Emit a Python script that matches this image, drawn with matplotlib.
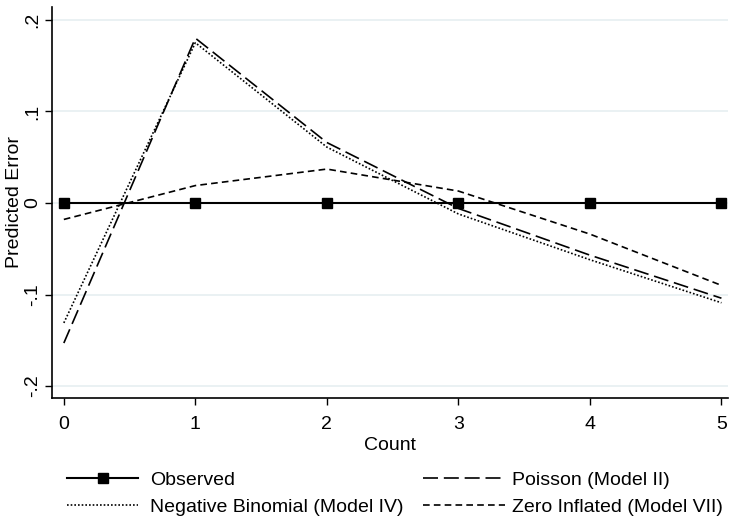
import matplotlib
matplotlib.use("Agg")
import matplotlib.pyplot as plt
from matplotlib.lines import Line2D

plt.rcParams['font.family'] = ['Liberation Sans', 'DejaVu Sans']

counts = [0, 1, 2, 3, 4, 5]
observed = [0, 0, 0, 0, 0, 0]
poisson = [-0.153, 0.180, 0.066, -0.006, -0.057, -0.104]
negbin = [-0.131, 0.175, 0.061, -0.012, -0.062, -0.109]
zeroinf = [-0.018, 0.019, 0.037, 0.013, -0.034, -0.090]
yticks = [-0.2, -0.1, 0, 0.1, 0.2]
yticklabels = ["-.2", "-.1", "0", ".1", ".2"]

FS = 14
W, H = 729, 520
fig = plt.figure(figsize=(W/100, H/100), dpi=100)
ax = fig.add_axes([52/W, 1-398/H, (728-52)/W, (398-7)/H])

for y in yticks:
    ax.axhline(y, color='#e6eff1', lw=1.2, zorder=0)

l_obs, = ax.plot(counts, observed, color='black', lw=1.5, marker='s', ms=7.5,
                 label='Observed', zorder=3)
l_poi, = ax.plot(counts, poisson, color='black', lw=1.2, dashes=(9, 3.5),
                 label='Poisson (Model II)')
l_nb, = ax.plot(counts, negbin, color='black', lw=1.2, dashes=(1, 1.2),
                label='Negative Binomial (Model IV)')
l_zi, = ax.plot(counts, zeroinf, color='black', lw=1.2, dashes=(4, 2.5),
                label='Zero Inflated (Model VII)')

ax.set_xlim(-0.09, 5.05)
ax.set_ylim(-0.213, 0.214)
ax.set_yticks(yticks)
ax.set_yticklabels(yticklabels, rotation=90, va='center', fontsize=FS)
ax.set_xticks(counts)
ax.set_xticklabels([str(c) for c in counts], fontsize=FS)
ax.tick_params(axis='x', length=5, width=1, color='black', pad=8)
ax.tick_params(axis='y', length=5, width=1, color='black', pad=3)
for s in ['top', 'right']:
    ax.spines[s].set_visible(False)
for s in ['left', 'bottom']:
    ax.spines[s].set_linewidth(1.2)
ax.set_xlabel('Count', fontsize=FS, labelpad=3)
ax.set_ylabel('Predicted Error', fontsize=FS)
ax.yaxis.set_label_coords((23-52)/676, 0.5)

col1 = [l_obs, l_nb]
col2 = [l_poi, l_zi]
fig.legend(handles=col1, labels=[h.get_label() for h in col1],
           loc='upper left', bbox_to_anchor=(67/W, 1-471/H),
           frameon=False, fontsize=FS, handlelength=71/19.4, handletextpad=12/19.4,
           labelspacing=0.5, borderpad=0, borderaxespad=0)
fig.legend(handles=col2, labels=[h.get_label() for h in col2],
           loc='upper left', bbox_to_anchor=(423/W, 1-471/H),
           frameon=False, fontsize=FS, handlelength=82/19.4, handletextpad=7/19.4,
           labelspacing=0.5, borderpad=0, borderaxespad=0)

fig.savefig('out.png', dpi=100)
